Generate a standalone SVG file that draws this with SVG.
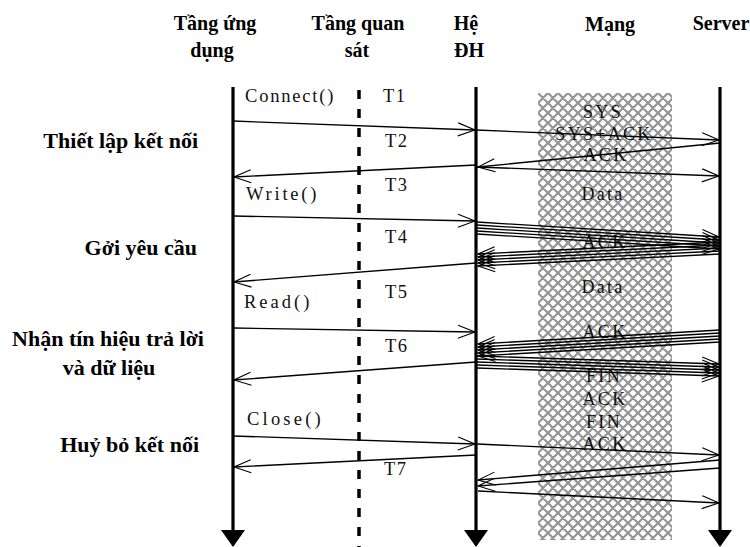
<svg xmlns="http://www.w3.org/2000/svg" width="750" height="547" viewBox="0 0 750 547">
<defs>
<pattern id="hatch" width="10" height="10" patternUnits="userSpaceOnUse" x="538" y="93">
<rect width="10" height="10" fill="#fff"/>
<path d="M0,0 L10,10 M10,0 L0,10 M-1,9 L1,11 M9,-1 L11,1 M9,11 L11,9 M-1,1 L1,-1" stroke="#959595" stroke-width="2.2" fill="none"/>
</pattern>
<marker id="ah" markerWidth="20" markerHeight="20" refX="0" refY="0" orient="auto" markerUnits="userSpaceOnUse" overflow="visible">
<path d="M-17,-6.5 L0,0 L-17,6.5" fill="none" stroke="#000" stroke-width="1.1"/>
</marker>
</defs>
<style>
.hdr{font-family:"Liberation Serif","Times New Roman",serif;font-weight:bold;font-size:20px;fill:#000;text-anchor:middle}
.side{font-family:"Liberation Serif","Times New Roman",serif;font-weight:bold;font-size:22px;fill:#000}
.lbl{font-family:"Liberation Serif","Times New Roman",serif;font-size:18.5px;fill:#111}
.net{font-family:"Liberation Serif","Times New Roman",serif;font-size:18px;fill:#111;text-anchor:middle;letter-spacing:2.3px}
.life{stroke:#000;stroke-width:3.2;fill:none}
.msg{stroke:#000;stroke-width:1.3;fill:none;marker-end:url(#ah)}
</style>
<rect width="750" height="547" fill="#fff"/>

<g id="network">
<rect x="538" y="93" width="134" height="447" fill="url(#hatch)"/>
<text class="hdr" x="610" y="31">Mạng</text>
<text class="net" x="603" y="118">SYS</text>
<text class="net" x="604" y="140">SYS+ACK</text>
<text class="net" x="606" y="161">ACK</text>
<text class="net" x="603" y="200">Data</text>
<text class="net" x="605" y="248">ACK</text>
<text class="net" x="603" y="293">Data</text>
<text class="net" x="605" y="338">ACK</text>
<text class="net" x="604" y="382">FIN</text>
<text class="net" x="605" y="405">ACK</text>
<text class="net" x="604" y="428">FIN</text>
<text class="net" x="605" y="450">ACK</text>
</g>

<g id="app">
<text class="hdr" x="215" y="30">Tầng ứng</text>
<text class="hdr" x="212" y="57">dụng</text>
<line class="life" x1="233" y1="87" x2="233" y2="531"/>
<polygon points="221,530 245,530 233,547" fill="#000"/>
<text class="lbl" x="245" y="102" letter-spacing="1.8">Connect()</text>
<text class="lbl" x="246" y="200" letter-spacing="2.8">Write()</text>
<text class="lbl" x="244" y="308" letter-spacing="3">Read()</text>
<text class="lbl" x="247" y="425" letter-spacing="3.2">Close()</text>
</g>

<g id="observer">
<text class="hdr" x="358" y="30">Tầng quan</text>
<text class="hdr" x="357" y="57">sát</text>
<line x1="359" y1="90" x2="359" y2="547" stroke="#000" stroke-width="3.5" stroke-dasharray="9,10"/>
<text class="lbl" x="383" y="102" letter-spacing="1.5">T1</text>
<text class="lbl" x="385" y="147" letter-spacing="1.5">T2</text>
<text class="lbl" x="385" y="191" letter-spacing="1.5">T3</text>
<text class="lbl" x="385" y="243" letter-spacing="1.5">T4</text>
<text class="lbl" x="385" y="298" letter-spacing="1.5">T5</text>
<text class="lbl" x="385" y="352" letter-spacing="1.5">T6</text>
<text class="lbl" x="384" y="475" letter-spacing="1.5">T7</text>
</g>

<g id="os">
<text class="hdr" x="466" y="30">Hệ</text>
<text class="hdr" x="469" y="57">ĐH</text>
<line class="life" x1="476" y1="87" x2="476" y2="531"/>
<polygon points="464,530 488,530 476,547" fill="#000"/>
</g>

<g id="server">
<text class="hdr" x="721" y="30">Server</text>
<line class="life" x1="720" y1="87" x2="720" y2="531"/>
<polygon points="708,530 732,530 720,547" fill="#000"/>
</g>

<g id="phases">
<text class="side" x="198" y="148" text-anchor="end">Thiết lập kết nối</text>
<text class="side" x="197" y="255" text-anchor="end">Gởi yêu cầu</text>
<text class="side" x="108" y="346" text-anchor="middle">Nhận tín hiệu trả lời</text>
<text class="side" x="109" y="375" text-anchor="middle">và dữ liệu</text>
<text class="side" x="199" y="452" text-anchor="end">Huỷ bỏ kết nối</text>
</g>

<g id="connectors">
<line class="msg" x1="233" y1="121" x2="475" y2="130"/>
<line class="msg" x1="476" y1="165" x2="234" y2="177"/>
<line class="msg" x1="233" y1="216" x2="475" y2="221"/>
<line class="msg" x1="476" y1="263" x2="234" y2="282"/>
<line class="msg" x1="233" y1="328" x2="475" y2="332"/>
<line class="msg" x1="476" y1="362" x2="234" y2="380"/>
<line class="msg" x1="233" y1="436" x2="475" y2="444"/>
<line class="msg" x1="476" y1="455" x2="234" y2="467"/>

<line class="msg" x1="476" y1="130" x2="719" y2="140"/>
<line class="msg" x1="720" y1="143" x2="478" y2="167"/>
<line class="msg" x1="477" y1="167" x2="719" y2="176"/>

<line class="msg" x1="477" y1="222" x2="719" y2="237"/>
<line class="msg" x1="477" y1="225" x2="719" y2="240"/>
<line class="msg" x1="477" y1="228" x2="719" y2="243"/>
<line class="msg" x1="477" y1="231" x2="719" y2="246"/>
<line class="msg" x1="477" y1="234" x2="719" y2="249"/>

<line class="msg" x1="720" y1="242" x2="478" y2="254"/>
<line class="msg" x1="720" y1="245" x2="478" y2="257"/>
<line class="msg" x1="720" y1="248" x2="478" y2="260"/>
<line class="msg" x1="720" y1="251" x2="478" y2="263"/>
<line class="msg" x1="720" y1="254" x2="478" y2="266"/>

<line class="msg" x1="720" y1="330" x2="478" y2="344"/>
<line class="msg" x1="720" y1="333" x2="478" y2="347"/>
<line class="msg" x1="720" y1="336" x2="478" y2="350"/>
<line class="msg" x1="720" y1="339" x2="478" y2="353"/>
<line class="msg" x1="720" y1="342" x2="478" y2="356"/>

<line class="msg" x1="477" y1="356" x2="719" y2="364"/>
<line class="msg" x1="477" y1="359" x2="719" y2="367"/>
<line class="msg" x1="477" y1="362" x2="719" y2="370"/>
<line class="msg" x1="477" y1="365" x2="719" y2="373"/>
<line class="msg" x1="477" y1="368" x2="719" y2="376"/>

<line class="msg" x1="477" y1="444" x2="719" y2="455"/>
<line class="msg" x1="720" y1="460" x2="478" y2="480"/>
<line class="msg" x1="720" y1="468" x2="478" y2="486"/>
<line class="msg" x1="478" y1="491" x2="719" y2="503"/>
</g>
</svg>
